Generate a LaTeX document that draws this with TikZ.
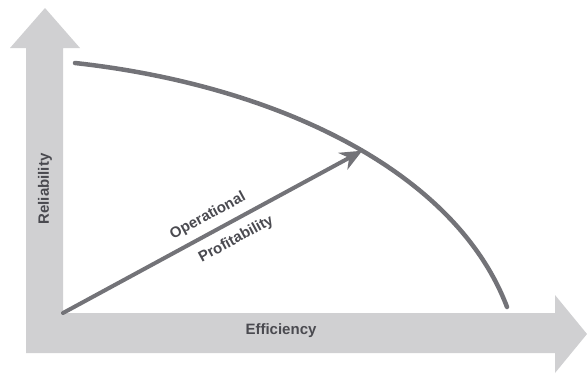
\documentclass[tikz,border=0pt]{standalone}
\usepackage{fontspec}
\setmainfont{Liberation Sans}
\usetikzlibrary{arrows.meta,positioning,calc}
\definecolor{axisgray}{HTML}{D0D0D2}
\definecolor{curvegray}{HTML}{737378}
\definecolor{textgray}{HTML}{4A4A50}
\tikzset{
  axislabel/.style={font=\fontsize{15}{15}\selectfont\bfseries,text=textgray,inner sep=0pt},
  frontier/.style={curvegray,line width=4.5pt,line cap=round},
  profit/.style={curvegray,line width=4pt,line cap=round,
    -{Stealth[length=22pt,width=19pt,inset=7pt]}}
}

\begin{document}
\begin{tikzpicture}[x=1pt,y=-1pt]
  \useasboundingbox (0,0) rectangle (587,376);

  % the two axes as one L-shaped block arrow
  \fill[axisgray] (10,48) -- (45,8) -- (80,48) -- (63,48) -- (63,313)
    -- (555,313) -- (555,295) -- (587,334) -- (555,373) -- (555,353)
    -- (26,353) -- (26,48) -- cycle;
  \node[axislabel,rotate=90] (rel) at (45,189) {Reliability};
  \node[axislabel] (eff) at (281,331) {Efficiency};

  \coordinate (corner) at (63,313);
  \coordinate (f0) at (75,63);
  \coordinate (f3) at (507,307);

  % frontier curve
  \draw[frontier] (f0) .. controls (275,85) and (455,170) .. (f3)
    coordinate[pos=0.535] (top);

  \draw[profit] (corner) -- (top)
    node[axislabel,pos=0.51,sloped,above=7pt] (op) {Operational}
    node[axislabel,pos=0.55,sloped,below=9pt] (pr) {Profitability};
\end{tikzpicture}
\end{document}
